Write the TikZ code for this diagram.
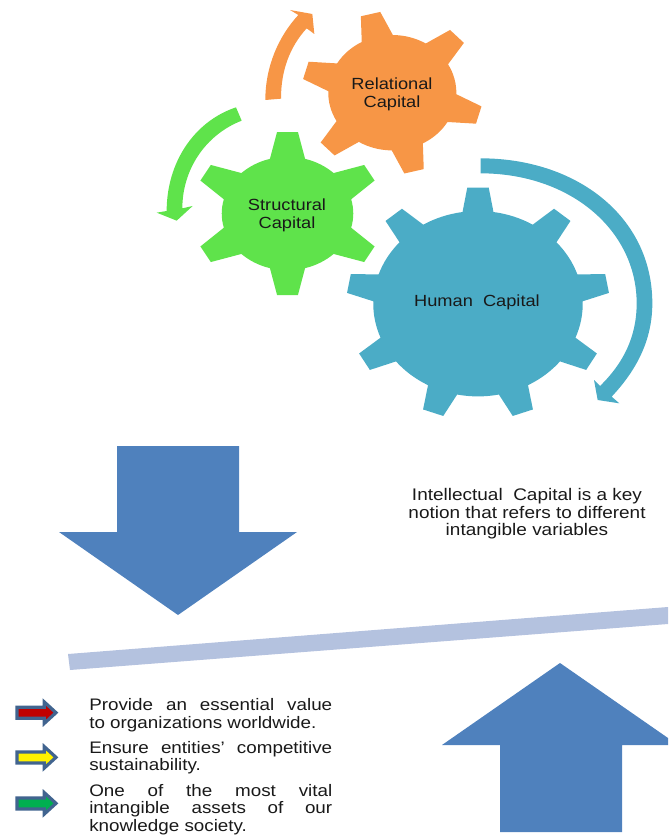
\documentclass[tikz,border=0pt]{standalone}
\usepackage{fontspec}
\setmainfont[FakeStretch=1.13]{Liberation Sans}
\definecolor{gblue}{HTML}{4BACC6}
\definecolor{ggreen}{HTML}{5FE34B}
\definecolor{gorange}{HTML}{F79646}
\definecolor{bigblue}{HTML}{4F81BD}
\definecolor{barblue}{HTML}{B4C2DF}
\definecolor{edgeblue}{HTML}{41648F}
\definecolor{darkred}{HTML}{C00000}
\definecolor{okgreen}{HTML}{00B050}
\tikzset{
  x=0.75pt,y=0.75pt,
  gearlabel/.style={inner sep=0pt,align=center,text=black!90,font=\fontsize{12.1}{13.6}\selectfont},
  listtext/.style={inner sep=0pt,anchor=north west,text width=182.25pt,align=justify,text=black!90,font=\fontsize{12.5}{13.2}\selectfont},
  notetext/.style={inner sep=0pt,align=center,text=black!90,font=\fontsize{12.6}{13.2}\selectfont},
  smallarrow/.style={draw=edgeblue,line width=2.4pt,miter limit=4}
}
% cx cy ry xscale rtip n start baseHalfAngle tipHalfWidth colour
\newcommand{\gearshape}[9]{%
  \begin{scope}[shift={(#1,-#2)},xscale=#4]
    \pgfmathsetmacro{\gstep}{360/#6}
    \pgfmathsetmacro{\gfirst}{#7+#8}
    \fill[#9] (#7-#8:#3) -- ([rotate=#7]#5,-\tipw) -- ([rotate=#7]#5,\tipw) -- (\gfirst:#3)
      \foreach \gi in {1,...,\numexpr#6-1\relax}{
        arc[start angle=#7+\gi*\gstep-\gstep+#8,end angle=#7+\gi*\gstep-#8,radius=#3]
        -- ([rotate=#7+\gi*\gstep]#5,-\tipw) -- ([rotate=#7+\gi*\gstep]#5,\tipw) -- (#7+\gi*\gstep+#8:#3)
      }
      arc[start angle=#7+360-\gstep+#8,end angle=#7+360-#8,radius=#3] -- cycle;
  \end{scope}}
\begin{document}
\begin{tikzpicture}
\useasboundingbox (0,0) rectangle (668,-835);
% gears
\def\tipw{9}
\gearshape{392.3}{92.7}{57.7}{1.11}{81}{6}{104}{14.5}{gorange}
\gearshape{287.5}{213.5}{56.7}{1.16}{81.5}{6}{90}{15.5}{ggreen}
\def\tipw{9.5}
\gearshape{478}{303.7}{92.7}{1.13}{116}{9}{90}{8.5}{gblue}
% curved arrows
\begin{scope}[shift={(150,0)},xscale=.33333,yscale=-.33333]
\fill[gorange] (346,300) .. controls (346,200) and (385,110) .. (445,45) -- (420,30) -- (487,42) -- (493,102) -- (470,85) .. controls (420,140) and (393,210) .. (393,296) -- cycle;
\fill[ggreen] (258,322) .. controls (130,365) and (50,490) .. (50,633) -- (20,638) -- (80,662) -- (128,618) -- (97,625) .. controls (97,510) and (165,405) .. (275,362) -- cycle;
\end{scope}
\begin{scope}[shift={(340,-150)},xscale=.33333,yscale=-.33333]
\fill[gblue] (422,25) .. controls (710,25) and (937,200) .. (937,460) .. controls (937,570) and (890,660) .. (815,740) -- (838,760) -- (773,750) -- (762,690) -- (780,708) .. controls (850,640) and (890,560) .. (890,460) .. controls (890,240) and (690,70) .. (422,70) -- cycle;
\end{scope}
% gear labels
\node[gearlabel] (relational) at (392,-94) {Relational\\Capital};
\node[gearlabel] (structural) at (287,-215) {Structural\\Capital};
\node[gearlabel] (human) at (477,-302) {Human\ \ Capital};
% big arrows and beam
\fill[bigblue] (117,-446) -- (239,-446) -- (239,-532) -- (297,-532) -- (178,-615) -- (59,-532) -- (117,-532) -- cycle;
\fill[bigblue] (560,-663) -- (668,-738) -- (668,-745) -- (622,-745) -- (622,-832) -- (500,-832) -- (500,-745) -- (442,-745) -- cycle;
\fill[barblue] (68,-654) -- (668,-607) -- (668,-624) -- (70,-670) -- cycle;
% note
\node[notetext] (note) at (527,-514) {Intellectual\ \ Capital is a key\\notion that refers to different\\intangible variables};
% list
\begin{scope}[shift={(0,-680)},xscale=.33333,yscale=-.33333]
\foreach \off/\col in {0/darkred,134/yellow,272/okgreen}{
  \begin{scope}[shift={(0,\off)}]
  \filldraw[smallarrow,fill=\col] (51,82) -- (133,82) -- (133,66) -- (168,98) -- (133,130) -- (133,115) -- (51,115) -- cycle;
  \end{scope}
}
\end{scope}
\node[listtext] (p1) at (89,-698.5) {Provide an essential value\linebreak to organizations worldwide.};
\node[listtext] (p2) at (89,-741) {Ensure entities’ competitive\linebreak sustainability.};
\node[listtext] (p3) at (89,-784) {One of the most vital\linebreak intangible assets of our\linebreak knowledge society.};
\end{tikzpicture}
\end{document}
